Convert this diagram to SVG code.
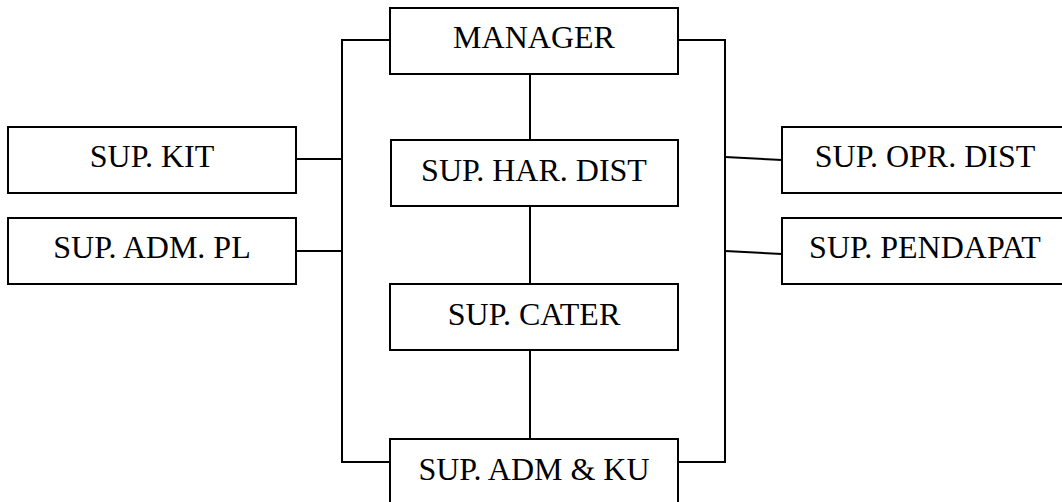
<svg xmlns="http://www.w3.org/2000/svg" width="1062" height="502" viewBox="0 0 1062 502">
<style>
.box{fill:#fff;stroke:#000;stroke-width:2}
.ln{fill:none;stroke:#000;stroke-width:2}
</style>
<rect width="1062" height="502" fill="#fff"/>
<g id="connectors">
<polyline class="ln" points="390,40 342,40 342,462 390,462"/>
<polyline class="ln" points="678,40 725,40 725,462 678,462"/>
<line class="ln" x1="530" y1="74" x2="530" y2="439"/>
<line class="ln" x1="296" y1="159" x2="342" y2="159"/>
<line class="ln" x1="296" y1="251" x2="342" y2="251"/>
<line class="ln" x1="725" y1="157" x2="782" y2="160"/>
<line class="ln" x1="725" y1="251" x2="782" y2="254"/>
</g>
<g font-family="'Liberation Serif', 'Times New Roman', serif" font-size="32" text-anchor="middle" fill="#000">
<g id="manager"><rect class="box" x="390" y="8" width="288" height="66"/><text x="534" y="48">MANAGER</text></g>
<g id="sup-har-dist"><rect class="box" x="391" y="140" width="287" height="66"/><text x="534" y="181">SUP. HAR. DIST</text></g>
<g id="sup-cater"><rect class="box" x="390" y="284" width="288" height="66"/><text x="534" y="325">SUP. CATER</text></g>
<g id="sup-adm-ku"><rect class="box" x="390" y="439" width="288" height="80"/><text x="534" y="480">SUP. ADM &amp; KU</text></g>
<g id="sup-kit"><rect class="box" x="8" y="127" width="288" height="66"/><text x="152" y="167">SUP. KIT</text></g>
<g id="sup-adm-pl"><rect class="box" x="8" y="218" width="288" height="66"/><text x="152" y="258">SUP. ADM. PL</text></g>
<g id="sup-opr-dist"><rect class="box" x="782" y="127" width="290" height="66"/><text x="925" y="167">SUP. OPR. DIST</text></g>
<g id="sup-pendapat"><rect class="box" x="782" y="218" width="290" height="66"/><text x="925" y="258">SUP. PENDAPAT</text></g>
</g>
</svg>
